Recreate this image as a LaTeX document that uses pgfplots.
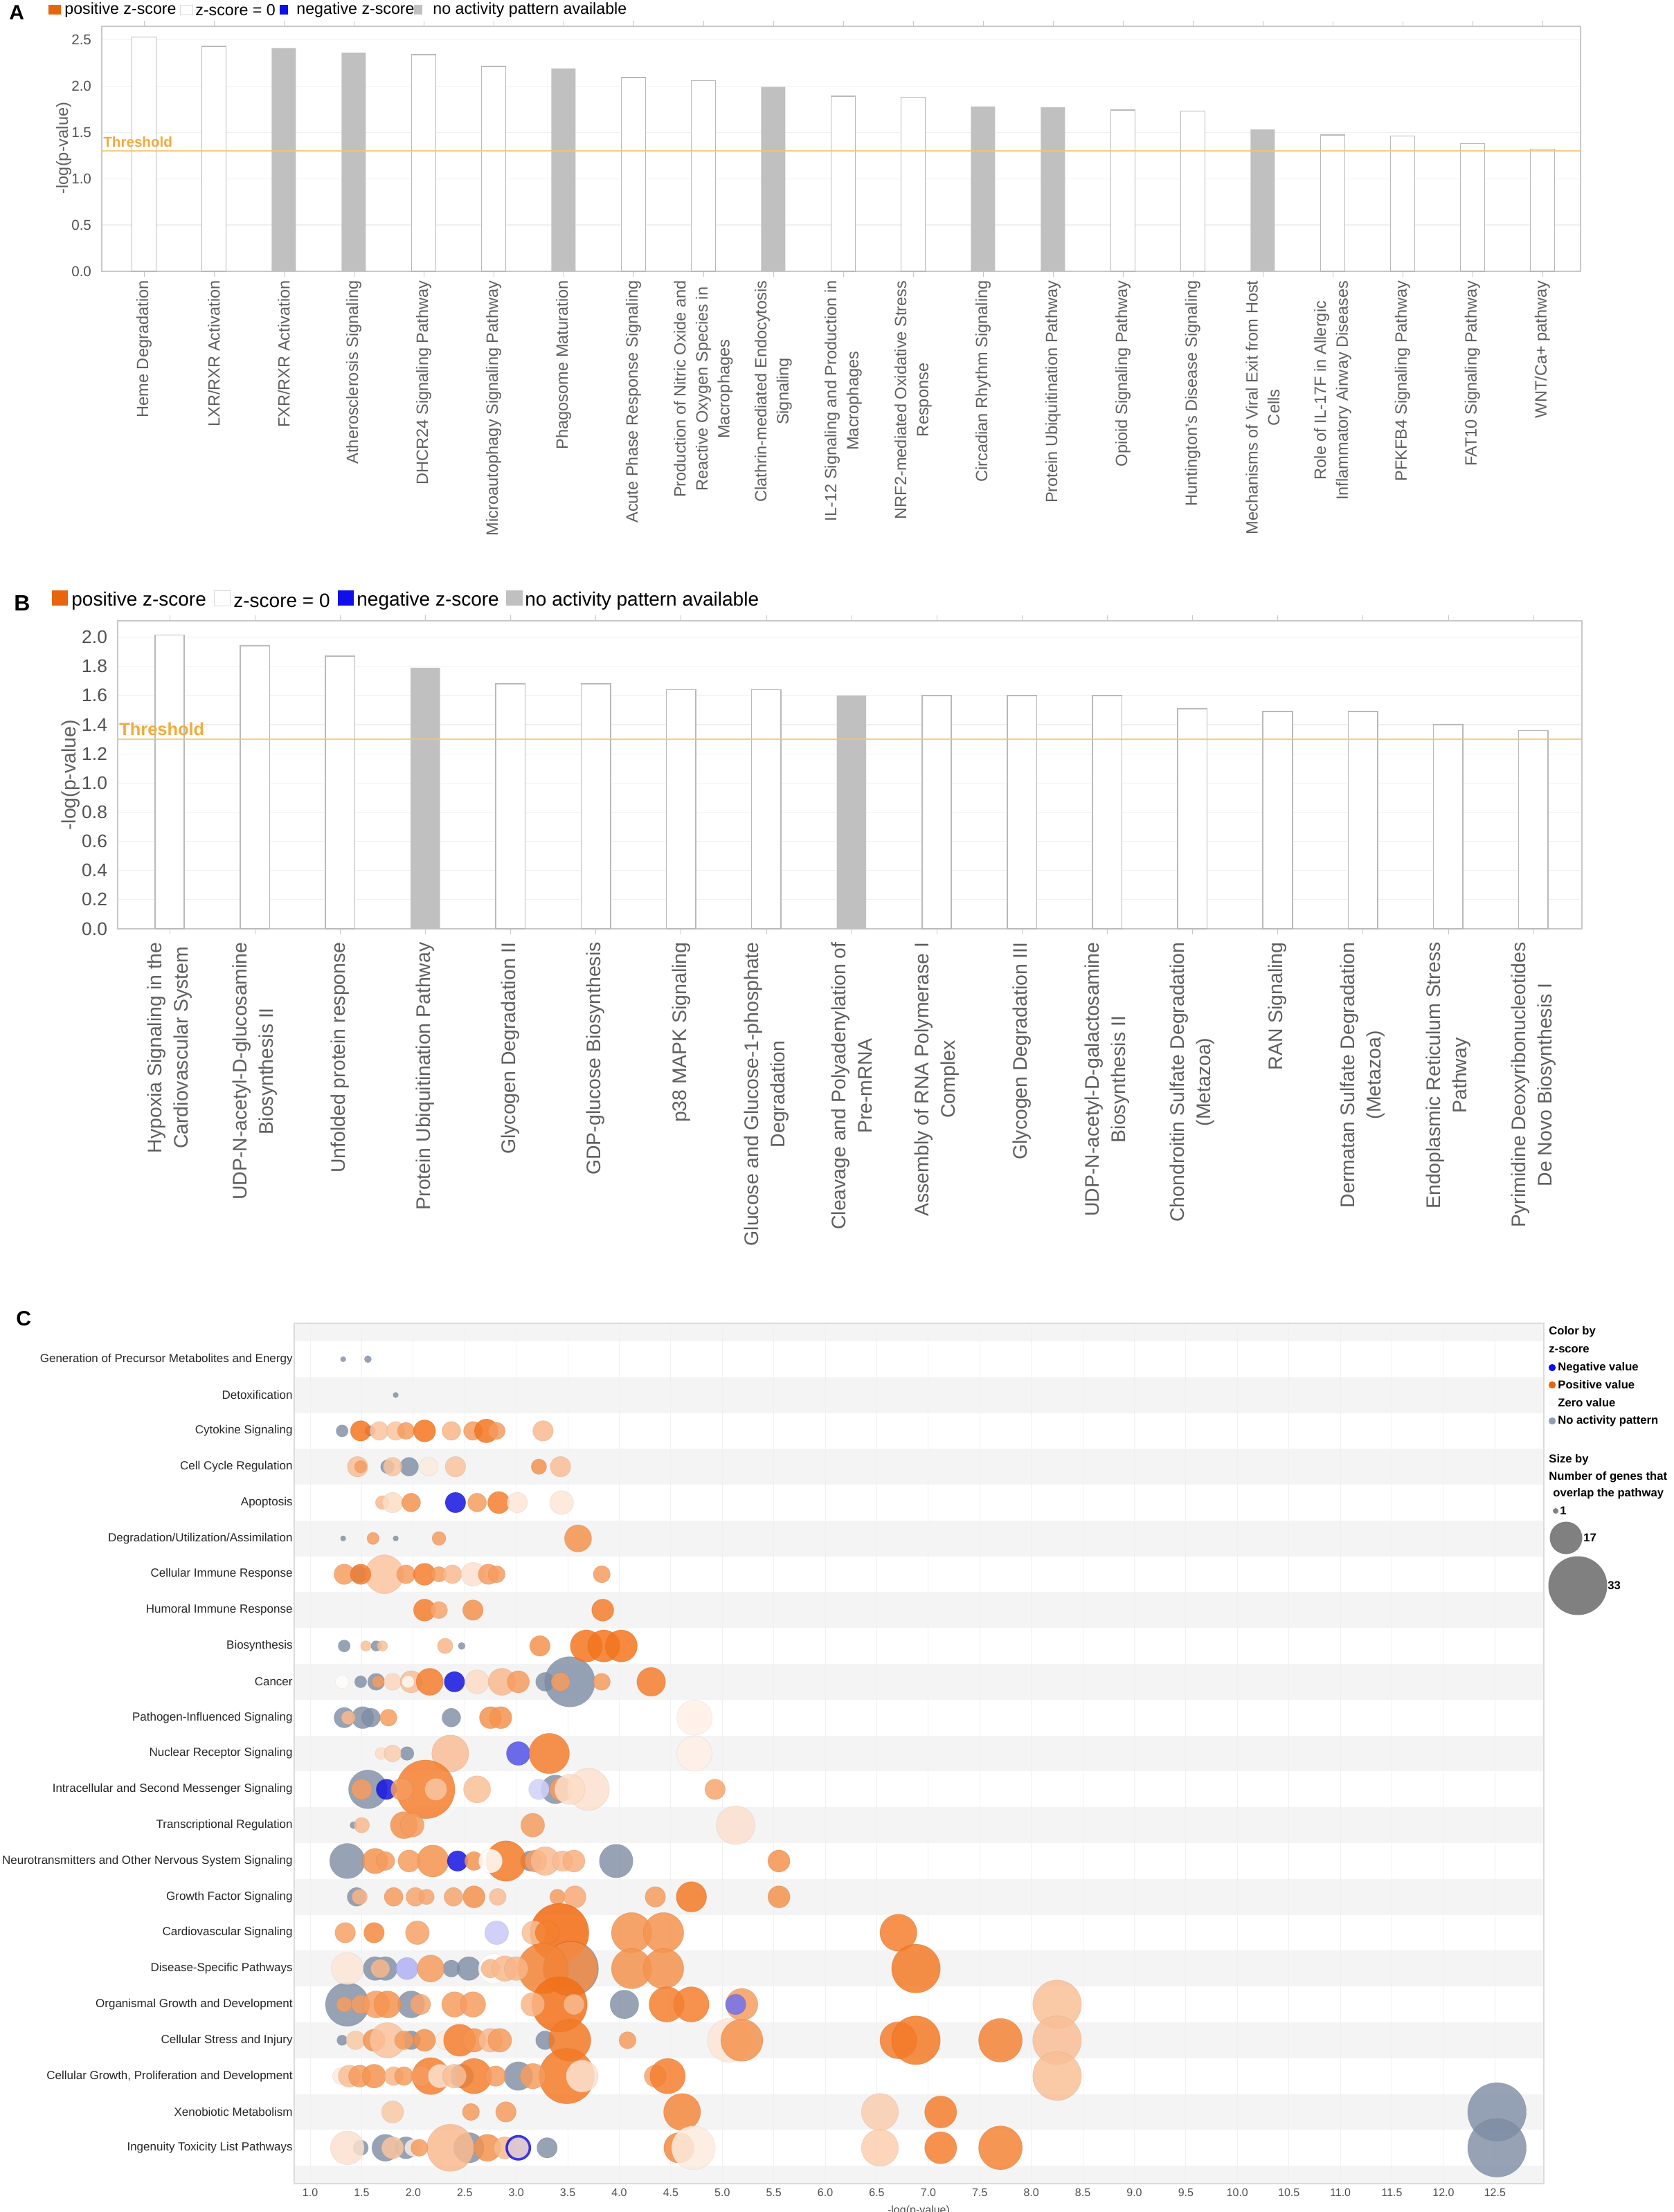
\documentclass[border=0pt]{standalone}
\usepackage{fontspec}
\setmainfont{Liberation Sans}
\usepackage{pgfplots}
\usepackage{pgfplotstable}
\pgfplotsset{compat=1.18}

\definecolor{posor}{RGB}{232,101,15}
\definecolor{negbl}{RGB}{15,15,235}
\definecolor{nagray}{RGB}{192,192,192}
\definecolor{barline}{RGB}{185,185,185}
\definecolor{thr}{RGB}{246,196,110}
\definecolor{thrtext}{RGB}{244,170,60}
\definecolor{tickgray}{RGB}{80,80,80}
\definecolor{labgray}{RGB}{95,95,95}
\definecolor{gridc}{RGB}{240,240,240}
\definecolor{framec}{RGB}{200,200,200}
\definecolor{stripe}{RGB}{244,244,244}
\definecolor{bubgray}{RGB}{125,140,163}
\definecolor{leggray}{RGB}{128,128,128}

\pgfplotsset{colormap={zmap}{rgb255=(20,20,225) rgb255=(255,255,255) rgb255=(242,107,15)}}

% Panel C data: x = -log(p), y = row index, n = number of genes, z = z-score
\pgfplotstableread{
x y n
1.32 0 1
1.56 0 2
1.83 1 1
1.31 2 5
1.58 2 4
1.75 3 6
1.96 3 9
1.32 5 1
1.83 5 1
1.47 6 8
1.33 8 5
1.64 8 4
2.47 8 2
1.49 9 5
1.64 9 8
3.28 9 9
3.52 9 28
1.33 10 10
1.51 10 11
1.59 10 9
2.37 10 9
1.94 11 6
1.56 12 21
3.38 12 15
1.42 13 2
1.36 14 19
3.14 14 10
3.97 14 18
1.45 15 9
1.63 17 12
1.73 17 12
2.37 17 8
2.54 17 12
3.53 17 31
1.36 18 24
1.98 18 14
4.05 18 15
1.31 19 4
1.98 19 9
3.28 19 9
2.47 20 12
3.02 20 15
12.52 21 33
1.49 22 7
1.73 22 14
1.93 22 11
2.54 22 16
3.30 22 10
12.52 22 33
}\graydata

\pgfplotstableread{
x y n z
1.49 2 10 2.8
1.67 2 9 1.2
1.83 2 9 1.2
1.93 2 8 2.0
2.11 2 11 2.8
2.37 2 9 1.5
2.58 2 9 2.0
2.71 2 12 2.8
2.81 2 8 2.0
3.26 2 10 1.4
1.46 3 10 1.3
1.49 3 5 2.0
1.80 3 9 1.2
2.15 3 9 0.4
2.41 3 10 1.2
3.22 3 7 2.2
3.43 3 10 1.3
1.70 4 6 1.4
1.80 4 10 0.7
1.98 4 9 2.2
2.41 4 10 -3
2.62 4 9 2.0
2.83 4 11 2.6
3.01 4 10 0.5
3.44 4 12 0.5
1.61 5 5 2.0
2.25 5 6 2.0
3.60 5 14 2.2
1.72 6 21 1.2
1.33 6 10 2.0
1.49 6 10 2.6
1.93 6 9 2.0
2.11 6 11 2.6
2.25 6 7 2.0
2.38 6 9 1.4
2.58 6 12 0.6
2.73 6 10 2.0
2.81 6 8 2.0
3.83 6 8 2.0
2.11 7 11 2.6
2.25 7 8 1.8
2.58 7 10 2.2
3.84 7 11 2.6
1.54 8 4 1.3
1.70 8 4 1.3
2.31 8 7 1.5
3.23 8 10 2.2
3.68 8 17 2.8
3.85 8 17 2.8
4.02 8 17 2.8
1.31 9 6 0.05
1.66 9 5 2.0
1.80 9 8 0.8
1.98 9 11 1.3
1.95 9 5 0.1
2.16 9 14 2.6
2.40 9 10 -3
2.62 9 12 0.7
2.86 9 14 1.4
3.02 9 11 2.0
3.43 9 9 2.0
3.83 9 8 2.0
4.31 9 15 2.6
1.37 10 6 1.4
1.76 10 8 2.0
2.75 10 11 2.2
2.85 10 11 2.2
4.73 10 19 0.3
1.69 11 5 0.7
1.80 11 8 1.0
2.36 11 20 1.3
3.02 11 12 -2.2
3.32 11 22 2.6
4.73 11 19 0.3
2.12 12 33 2.6
1.50 12 10 2.0
1.74 12 10 -3
1.89 12 11 2.0
2.22 12 11 1.2
2.62 12 14 1.3
3.22 12 10 -0.6
3.44 12 12 2.0
3.70 12 23 0.6
3.52 12 16 0.7
4.93 12 10 1.8
1.50 13 7 1.4
1.91 13 14 2.2
1.99 13 12 2.0
3.16 13 12 2.0
5.13 13 21 0.6
2.90 14 22 2.7
2.19 14 17 2.2
1.63 14 13 2.2
1.73 14 9 2.0
1.96 14 11 2.0
2.43 14 10 -3
2.59 14 9 2.2
2.75 14 12 0.05
3.19 14 11 2.0
3.28 14 15 1.4
3.45 14 10 1.4
3.56 14 11 1.6
5.55 14 11 2.2
1.48 15 7 1.5
1.81 15 9 2.0
2.02 15 9 1.8
2.13 15 7 1.8
2.39 15 9 1.8
2.59 15 11 2.2
2.82 15 8 1.3
3.40 15 7 2.0
3.57 15 11 1.7
4.35 15 10 2.0
4.70 15 16 2.7
5.55 15 11 2.2
3.42 16 33 3.0
1.34 16 10 1.9
1.62 16 10 2.4
2.04 16 12 1.9
2.81 16 12 -0.7
3.17 16 12 1.3
3.30 16 12 2.6
4.12 16 22 2.2
4.43 16 22 2.2
6.71 16 20 2.6
3.53 17 30 2.3
3.26 17 28 2.5
1.36 17 17 0.5
1.68 17 9 1.4
1.94 17 11 -1.0
2.17 17 14 2.0
2.78 17 16 0.05
2.75 17 9 1.5
2.89 17 13 1.4
3.00 17 12 1.5
4.12 17 22 2.2
4.43 17 22 2.2
6.88 17 27 2.7
3.42 18 31 2.9
1.33 18 7 2.0
1.49 18 9 2.0
1.64 18 14 2.0
1.75 18 14 2.2
2.07 18 10 1.8
2.40 18 13 2.0
2.58 18 13 2.0
3.16 18 12 1.5
3.56 18 10 1.4
4.46 18 19 2.6
4.70 18 19 2.6
5.19 18 17 2.0
5.13 18 10 -1.8
8.25 18 27 1.3
3.52 19 23 2.7
1.44 19 9 1.1
1.62 19 11 2.2
1.75 19 19 1.2
1.91 19 9 2.0
2.11 19 11 2.2
2.31 19 9 0.4
2.45 19 17 2.6
2.59 19 12 2.2
2.75 19 12 1.4
2.84 19 12 2.0
4.08 19 8 2.0
5.07 19 24 0.5
5.19 19 23 2.2
6.71 19 20 2.6
6.88 19 27 2.7
7.70 19 24 2.5
8.25 19 27 1.3
3.49 20 31 2.7
2.17 20 20 2.6
2.59 20 19 2.6
1.30 20 8 0.4
1.38 20 11 1.3
1.48 20 11 2.0
1.62 20 12 2.2
1.81 20 9 1.5
1.91 20 9 2.0
2.08 20 10 2.0
2.26 20 12 0.6
2.40 20 12 1.3
2.80 20 10 2.0
3.16 20 13 2.0
3.64 20 17 0.6
4.35 20 11 1.8
4.47 20 19 2.6
8.25 20 27 1.3
1.80 21 11 1.1
2.56 21 8 2.0
2.90 21 10 2.0
4.61 21 20 2.4
6.53 21 20 1.0
7.12 21 17 2.6
2.36 22 26 1.4
1.36 22 18 0.6
1.80 22 11 1.2
2.00 22 8 0.4
2.06 22 8 2.0
2.72 22 14 2.2
2.89 22 11 1.4
3.02 22 13 -3
3.02 22 10 0.6
4.58 22 16 2.4
4.72 22 24 0.4
6.53 22 20 1.0
7.12 22 17 2.6
7.70 22 24 2.5
}\colordata

\begin{document}
\begin{tikzpicture}
\path (0,0) rectangle (1208.5pt,-1598pt);

% ================= Panel A =================
\node[anchor=west, inner sep=0pt, font=\bfseries\fontsize{15}{16}\selectfont] at (6.5pt,-9pt) {A};
\begin{scope}[every node/.style={anchor=west, inner sep=0pt, font=\fontsize{11.6}{13}\selectfont}]
\fill[posor] (35pt,-3.5pt) rectangle (44pt,-10.5pt);
\node at (46.5pt,-7.5pt) {positive z-score};
\filldraw[fill=white, draw=black!15, line width=0.4pt] (130pt,-3.5pt) rectangle (139pt,-10.5pt);
\node at (141pt,-7.5pt) {z-score = 0};
\fill[negbl] (202pt,-3.5pt) rectangle (208pt,-10.5pt);
\node at (214pt,-7.5pt) {negative z-score};
\fill[nagray] (299pt,-3.5pt) rectangle (305pt,-10.5pt);
\node at (312.5pt,-7.5pt) {no activity pattern available};
\end{scope}
\node[rotate=90, font=\fontsize{11.8}{14}\selectfont, text=labgray] at (46pt,-107pt) {-log(p-value)};

\begin{axis}[
  at={(73.5pt,-19pt)}, anchor=north west,
  scale only axis, width=1068pt, height=177pt,
  xmin=-0.604, xmax=20.546, ymin=0, ymax=2.645,
  axis line style={draw=framec, line width=0.8pt},
  xtick={0,...,20},
  xticklabels={{Heme Degradation},{LXR/RXR Activation},{FXR/RXR Activation},{Atherosclerosis Signaling},{DHCR24 Signaling Pathway},{Microautophagy Signaling Pathway},{Phagosome Maturation},{Acute Phase Response Signaling},{Production of Nitric Oxide and\\Reactive Oxygen Species in\\Macrophages},{Clathrin-mediated Endocytosis\\Signaling},{IL-12 Signaling and Production in\\Macrophages},{NRF2-mediated Oxidative Stress\\Response},{Circadian Rhythm Signaling},{Protein Ubiquitination Pathway},{Opioid Signaling Pathway},{Huntington's Disease Signaling},{Mechanisms of Viral Exit from Host\\Cells},{Role of IL-17F in Allergic\\Inflammatory Airway Diseases},{PFKFB4 Signaling Pathway},{FAT10 Signaling Pathway},{WNT/Ca+ pathway}},
  xticklabel style={rotate=90, anchor=east, align=center, inner sep=0pt, font=\fontsize{11.8}{15.8}\selectfont, text=labgray},
  xticklabel shift=2.5pt,
  ytick={0,0.5,...,2.5},
  yticklabel style={font=\fontsize{10.3}{12}\selectfont, text=tickgray, /pgf/number format/fixed, /pgf/number format/fixed zerofill, /pgf/number format/precision=1},
  /pgf/number format/assume math mode=true,
  ymajorgrids, grid style={gridc, line width=0.6pt},
  tick align=outside, major tick length=4pt,
  xtick style={draw=framec}, ytick style={draw=none},
]
\addplot[ybar, bar width=17.5pt, bar shift=0pt, fill=white, draw=barline, line width=0.8pt]
  coordinates {(0,2.53) (1,2.43) (4,2.34) (5,2.21) (7,2.09) (8,2.06) (10,1.89) (11,1.88) (14,1.74) (15,1.73) (17,1.47) (18,1.46) (19,1.38) (20,1.32)};
\addplot[ybar, bar width=17.5pt, bar shift=0pt, fill=nagray, draw=none]
  coordinates {(2,2.41) (3,2.36) (6,2.19) (9,1.99) (12,1.78) (13,1.77) (16,1.53)};
\addplot[thr, line width=1pt, opacity=0.85] coordinates {(-0.604,1.3) (20.546,1.3)};
\node[anchor=south west, inner sep=0pt, yshift=2.5pt, xshift=1pt, font=\bfseries\fontsize{10.3}{12}\selectfont, text=thrtext] at (axis cs:-0.604,1.3) {Threshold};
\end{axis}

% ================= Panel B =================
\node[anchor=west, inner sep=0pt, font=\bfseries\fontsize{16}{17}\selectfont] at (10pt,-435.5pt) {B};
\begin{scope}[every node/.style={anchor=west, inner sep=0pt, font=\fontsize{14}{16}\selectfont}]
\fill[posor] (37.5pt,-426.5pt) rectangle (49pt,-437.5pt);
\node at (51.5pt,-434pt) {positive z-score};
\filldraw[fill=white, draw=black!15, line width=0.4pt] (154.5pt,-426.5pt) rectangle (166pt,-437.5pt);
\node at (168.5pt,-434pt) {z-score = 0};
\fill[negbl] (244pt,-426.5pt) rectangle (255.5pt,-437.5pt);
\node at (257.5pt,-434pt) {negative z-score};
\fill[nagray] (365.5pt,-426.5pt) rectangle (377.5pt,-437.5pt);
\node at (379pt,-434pt) {no activity pattern available};
\end{scope}
\node[rotate=90, font=\fontsize{14.2}{16}\selectfont, text=labgray] at (51pt,-560pt) {-log(p-value)};

\begin{axis}[
  at={(85pt,-448.5pt)}, anchor=north west,
  scale only axis, width=1057.5pt, height=222.5pt,
  xmin=-0.609, xmax=16.57, ymin=0, ymax=2.112,
  axis line style={draw=framec, line width=0.8pt},
  xtick={0,...,16},
  xticklabels={{Hypoxia Signaling in the\\Cardiovascular System},{UDP-N-acetyl-D-glucosamine\\Biosynthesis II},{Unfolded protein response},{Protein Ubiquitination Pathway},{Glycogen Degradation II},{GDP-glucose Biosynthesis},{p38 MAPK Signaling},{Glucose and Glucose-1-phosphate\\Degradation},{Cleavage and Polyadenylation of\\Pre-mRNA},{Assembly of RNA Polymerase I\\Complex},{Glycogen Degradation III},{UDP-N-acetyl-D-galactosamine\\Biosynthesis II},{Chondroitin Sulfate Degradation\\(Metazoa)},{RAN Signaling},{Dermatan Sulfate Degradation\\(Metazoa)},{Endoplasmic Reticulum Stress\\Pathway},{Pyrimidine Deoxyribonucleotides\\De Novo Biosynthesis I}},
  xticklabel style={rotate=90, anchor=east, align=center, inner sep=0pt, font=\fontsize{14.2}{19}\selectfont, text=labgray},
  xticklabel shift=5.5pt,
  ytick={0,0.2,...,2.0},
  yticklabel style={font=\fontsize{13.2}{15}\selectfont, text=tickgray, /pgf/number format/fixed, /pgf/number format/fixed zerofill, /pgf/number format/precision=1},
  /pgf/number format/assume math mode=true,
  ymajorgrids, grid style={gridc, line width=0.6pt},
  tick align=outside, major tick length=4pt,
  xtick style={draw=framec}, ytick style={draw=none},
]
\addplot[ybar, bar width=21.25pt, bar shift=0pt, fill=white, draw=barline, line width=0.8pt]
  coordinates {(0,2.015) (1,1.94) (2,1.87) (4,1.68) (5,1.68) (6,1.64) (7,1.64) (9,1.60) (10,1.60) (11,1.60) (12,1.51) (13,1.49) (14,1.49) (15,1.40) (16,1.36)};
\addplot[ybar, bar width=21.25pt, bar shift=0pt, fill=nagray, draw=none]
  coordinates {(3,1.79) (8,1.60)};
\addplot[thr, line width=1pt, opacity=0.85] coordinates {(-0.609,1.3) (16.57,1.3)};
\node[anchor=south west, inner sep=0pt, yshift=2.5pt, xshift=1pt, font=\bfseries\fontsize{12.7}{14}\selectfont, text=thrtext] at (axis cs:-0.609,1.3) {Threshold};
\end{axis}

% ================= Panel C =================
\node[anchor=west, inner sep=0pt, font=\bfseries\fontsize{15}{16}\selectfont] at (11.5pt,-952.5pt) {C};

\begin{axis}[
  at={(212.5pt,-956pt)}, anchor=north west,
  scale only axis, width=902.5pt, height=621.5pt,
  xmin=0.845, xmax=12.975, ymin=-1, ymax=23, y dir=reverse,
  set layers,
  axis line style={draw=black!14, line width=0.6pt},
  ytick={0,...,22},
  yticklabels={{Generation of Precursor Metabolites and Energy},{Detoxification},{Cytokine Signaling},{Cell Cycle Regulation},{Apoptosis},{Degradation/Utilization/Assimilation},{Cellular Immune Response},{Humoral Immune Response},{Biosynthesis},{Cancer},{Pathogen-Influenced Signaling},{Nuclear Receptor Signaling},{Intracellular and Second Messenger Signaling},{Transcriptional Regulation},{Neurotransmitters and Other Nervous System Signaling},{Growth Factor Signaling},{Cardiovascular Signaling},{Disease-Specific Pathways},{Organismal Growth and Development},{Cellular Stress and Injury},{Cellular Growth, Proliferation and Development},{Xenobiotic Metabolism},{Ingenuity Toxicity List Pathways}},
  yticklabel style={font=\fontsize{8.5}{10}\selectfont, text=black!85, inner sep=1pt},
  xtick={1,1.5,2,2.5,3,3.5,4,4.5,5,5.5,6,6.5,7,7.5,8,8.5,9,9.5,10,10.5,11,11.5,12,12.5},
  xticklabel style={font=\fontsize{8}{9.6}\selectfont, text=tickgray, /pgf/number format/fixed, /pgf/number format/fixed zerofill, /pgf/number format/precision=1},
  /pgf/number format/assume math mode=true,
  major tick length=0pt,
  xmajorgrids, grid style={black!6, line width=0.5pt},
  colormap name=zmap, point meta min=-3, point meta max=3,
]
\begin{pgfonlayer}{axis background}
\fill[stripe] (axis cs:0.845,-1) rectangle (axis cs:12.975,-0.5);
\fill[stripe] (axis cs:0.845,0.5) rectangle (axis cs:12.975,1.5);
\fill[stripe] (axis cs:0.845,2.5) rectangle (axis cs:12.975,3.5);
\fill[stripe] (axis cs:0.845,4.5) rectangle (axis cs:12.975,5.5);
\fill[stripe] (axis cs:0.845,6.5) rectangle (axis cs:12.975,7.5);
\fill[stripe] (axis cs:0.845,8.5) rectangle (axis cs:12.975,9.5);
\fill[stripe] (axis cs:0.845,10.5) rectangle (axis cs:12.975,11.5);
\fill[stripe] (axis cs:0.845,12.5) rectangle (axis cs:12.975,13.5);
\fill[stripe] (axis cs:0.845,14.5) rectangle (axis cs:12.975,15.5);
\fill[stripe] (axis cs:0.845,16.5) rectangle (axis cs:12.975,17.5);
\fill[stripe] (axis cs:0.845,18.5) rectangle (axis cs:12.975,19.5);
\fill[stripe] (axis cs:0.845,20.5) rectangle (axis cs:12.975,21.5);
\fill[stripe] (axis cs:0.845,22.5) rectangle (axis cs:12.975,23);
\end{pgfonlayer}
\addplot[scatter, only marks, mark=*,
  point meta=\thisrow{n},
  scatter/use mapped color={draw=bubgray!80!black, fill=bubgray},
  mark options={fill opacity=0.8, draw opacity=0.15, line width=0.4pt},
  visualization depends on={\thisrow{n}\as\nn},
  scatter/@pre marker code/.append style={/tikz/mark size={1.4+0.6*\nn}}]
  table[x=x, y=y] {\graydata};
\addplot[scatter, only marks, mark=*,
  point meta=\thisrow{z},
  scatter/use mapped color={draw=mapped color!75!black, fill=mapped color},
  mark options={fill opacity=0.85, draw opacity=0.2, line width=0.4pt},
  visualization depends on={\thisrow{n}\as\nn},
  scatter/@pre marker code/.append style={/tikz/mark size={1.4+0.6*\nn}}]
  table[x=x, y=y] {\colordata};
\end{axis}
\node[font=\fontsize{8}{9.6}\selectfont, text=tickgray] at (663.5pt,-1597pt) {-log(p-value)};

% Panel C legend
\begin{scope}[every node/.style={anchor=west, inner sep=0pt, font=\bfseries\fontsize{8.3}{10}\selectfont}]
\node at (1118.5pt,-962pt) {Color by};
\node at (1118.5pt,-975pt) {z-score};
\fill[negbl] (1121pt,-988pt) circle (2.6pt);
\node at (1125pt,-988pt) {Negative value};
\fill[posor] (1121pt,-1000.5pt) circle (2.6pt);
\node at (1125pt,-1000.5pt) {Positive value};
\fill[black!2] (1121pt,-1013.5pt) circle (2.6pt);
\node at (1125pt,-1013.5pt) {Zero value};
\fill[bubgray!85] (1121pt,-1026.5pt) circle (2.6pt);
\node at (1125pt,-1026.5pt) {No activity pattern};
\node at (1118.5pt,-1054.5pt) {Size by};
\node at (1118.5pt,-1067pt) {Number of genes that};
\node at (1121.5pt,-1079pt) {overlap the pathway};
\fill[leggray] (1123.5pt,-1091.5pt) circle (2pt);
\node at (1126.5pt,-1091.5pt) {1};
\fill[leggray] (1131pt,-1111pt) circle (11.75pt);
\node at (1143.5pt,-1111pt) {17};
\fill[leggray] (1139.5pt,-1145.5pt) circle (21.25pt);
\node at (1161pt,-1145.5pt) {33};
\end{scope}
\pgfresetboundingbox
\path[use as bounding box] (0,0) rectangle (1208.5pt,-1598pt);
\end{tikzpicture}
\end{document}
